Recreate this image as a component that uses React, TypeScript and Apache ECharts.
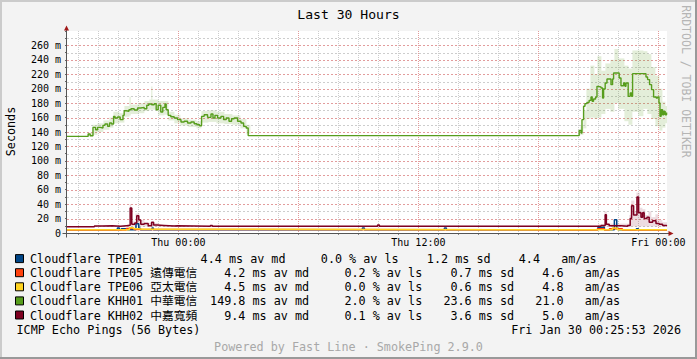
import React, { useEffect, useRef } from 'react';
import * as echarts from 'echarts';

// ---------------- data (hours relative to Thu 00:00, values in ms) ----------------
const startHour = -5.569; // Wed 18:25:53
const endHour = 24.431; // Fri 00:25:53
const hourGrid = [-5, -4, -3, -2, -1, 0, 1, 2, 3, 4, 5, 6, 7, 8, 9, 10, 11, 12, 13, 14, 15, 16, 17, 18, 19, 20, 21, 22, 23, 24];
const xLabelHours = [0, 12, 24];
const xLabelTexts = ['Thu 00:00', 'Thu 12:00', 'Fri 00:00'];
const yTop = 280;
const yStep = 20;
const yMajorValues = [20, 40, 60, 80, 100, 120, 140, 160, 180, 200, 220, 240, 260];
const yMinorValues = [10, 30, 50, 70, 90, 110, 130, 150, 170, 190, 210, 230, 250, 270];

const targetNames = ['Cloudflare TPE01', 'Cloudflare TPE05 遠傳電信', 'Cloudflare TPE06 亞太電信', 'Cloudflare KHH01 中華電信', 'Cloudflare KHH02 中嘉寬頻'];
const avgMedian = ['4.4', '4.2', '4.5', '149.8', '9.4'];
const avgLoss = ['0.0', '0.2', '0.0', '2.0', '0.1'];
const avgSd = ['1.2', '0.7', '0.6', '23.6', '3.6'];
const amAs = ['4.4', '4.6', '4.8', '21.0', '5.0'];

const tpe01Median: number[][] = [[-5.569, 4.4], [-3.05, 7.0], [-2.95, 4.4], [-2.85, 5.8], [-2.55, 4.4], [-2.12, 12.9], [-1.98, 6.5], [-1.9, 4.4], [-1.32, 6.8], [-1.25, 4.4], [9.2, 6.9], [9.3, 4.4], [13.3, 6.9], [13.4, 4.4], [20.98, 7.8], [21.3, 4.4], [21.8, 18.4], [21.92, 6.0], [22.0, 4.4], [22.9, 5.8], [23.0, 4.4], [24.431, 4.4]];
const tpe05Median: number[][] = [[-5.569, 4.2], [-2.6, 6.2], [-2.2, 5.0], [-1.9, 4.2], [20.95, 5.8], [21.3, 4.2], [21.55, 5.9], [22.2, 4.2], [24.431, 4.2]];
const tpe06Median: number[][] = [[-5.569, 4.5], [-2.45, 7.2], [-2.25, 6.0], [-2.0, 5.3], [-1.8, 4.5], [21.7, 6.8], [21.95, 4.5], [24.431, 4.5]];
const khh01Median: number[][] = [
  [-5.569, 134], [-4.51, 137.2], [-4.41, 134.9], [-4.27, 146.4], [-4.14, 143.2], [-4.04, 146.4], [-3.91, 145.5], [-3.77, 149.2], [-3.67, 151.1], [-3.54, 147.8], [-3.44, 152.4], [-3.34, 151.1], [-3.24, 161.7], [-3.17, 159.4], [-3.04, 160.8], [-2.91, 157.1], [-2.77, 163.1], [-2.71, 169.5], [-2.61, 168.6], [-2.47, 170.9], [-2.37, 172.3], [-2.21, 170.5], [-2.04, 173.2], [-1.88, 174.1], [-1.71, 172.3], [-1.58, 177], [-1.48, 178.8], [-1.34, 177.8], [-1.21, 179.2], [-1.11, 170.9], [-1.01, 177], [-0.88, 167.7], [-0.78, 174.1], [-0.67, 178.8], [-0.61, 170.9], [-0.51, 163.1], [-0.38, 161.2], [-0.21, 159.4], [-0.04, 157.1], [0.13, 153.8], [0.29, 154.8], [0.46, 152.4], [0.63, 153.8], [0.79, 151.5], [0.93, 150.1], [1.06, 148.7], [1.16, 161.7], [1.29, 164], [1.46, 160.3], [1.63, 164.9], [1.73, 159.4], [1.83, 163.1], [1.96, 159.4], [2.13, 161.7], [2.26, 157.1], [2.39, 159.4], [2.53, 154.8], [2.66, 158.4], [2.79, 159.4], [2.96, 154.8], [3.13, 152.4], [3.26, 147.8], [3.39, 145.5], [3.49, 135],
  [20.04, 142.3], [20.13, 138.6], [20.18, 157.1], [20.26, 175.6], [20.33, 179.3], [20.43, 181.1], [20.54, 183.9], [20.63, 188.5], [20.69, 182.5], [20.76, 185.7], [20.86, 188.5], [20.93, 203.3], [20.99, 202.4], [21.13, 201], [21.21, 187.2], [21.26, 199.6], [21.34, 207.9], [21.43, 213.5], [21.63, 205.6], [21.71, 213.5], [21.76, 221.8], [22.04, 214.9], [22.13, 204.2], [22.26, 207.9], [22.33, 203.3], [22.38, 207.9], [22.49, 189.4], [22.59, 194], [22.66, 189.4], [22.71, 220.9], [23.38, 216.3], [23.46, 212.6], [23.56, 205.6], [23.66, 198.7], [23.76, 188.5], [23.89, 187.2], [23.96, 188.5], [24.03, 180.2], [24.08, 161.7], [24.14, 171], [24.21, 164], [24.27, 168.6], [24.34, 164], [24.41, 167.2], [24.431, 167.2],
];
const khh02Median: number[][] = [
  [-5.569, 8.6], [-4.2, 9.6], [-3.8, 9.9], [-3.3, 9.4], [-2.9, 10.2], [-2.6, 10.6], [-2.41, 34.7], [-2.33, 12], [-2.18, 13.9], [-2.08, 24], [-1.98, 18], [-1.88, 12], [-1.71, 13], [-1.51, 10], [-1.34, 15], [-1.24, 11], [-1.04, 10.5], [-0.71, 9.6], [-0.21, 10], [-0.04, 9.2], [1.6, 10.5], [1.7, 9.2], [9.96, 11], [10.05, 9.2],
  [21.13, 10.5], [21.34, 25.4], [21.4, 12], [21.54, 10], [22.13, 9.5], [22.46, 10.5], [22.59, 20], [22.66, 37.8], [22.76, 25], [22.93, 49.9], [23.01, 28], [23.13, 22], [23.21, 28], [23.29, 20], [23.43, 22], [23.54, 15], [23.71, 17], [23.88, 13], [24.04, 12], [24.21, 10.5], [24.38, 10], [24.431, 10],
];
// smoke: [hour, low, high]; each band lasts until the next entry's hour
const khh01Smoke: number[][] = [
  [-4.55, 134, 139], [-4.3, 136, 150], [-4.05, 140, 152], [-3.75, 143, 156], [-3.45, 146, 160], [-3.25, 152, 168], [-2.95, 153, 166], [-2.7, 161, 176], [-2.45, 163, 189], [-2.38, 165, 178], [-2.0, 166, 180], [-1.7, 169, 183], [-1.45, 171, 185], [-1.36, 171, 203], [-1.3, 171, 185], [-1.0, 163, 183], [-0.7, 164, 183], [-0.5, 156, 168], [-0.2, 152, 164], [0.1, 149, 159], [0.5, 147, 157], [0.9, 145, 155], [1.15, 153, 169], [1.5, 154, 170], [1.9, 152, 168], [2.3, 151, 165], [2.7, 150, 163], [3.1, 145, 158], [3.4, 137, 150], [3.6, 135, 135],
  [20.0, 135, 137], [20.1, 136, 148], [20.25, 145, 170], [20.4, 158, 200], [20.6, 160, 232], [20.8, 158, 220], [20.95, 160, 245], [21.15, 165, 225], [21.35, 172, 235], [21.6, 168, 240], [21.8, 180, 255], [22.0, 172, 242], [22.3, 155, 232], [22.5, 150, 228], [22.7, 168, 253], [23.0, 162, 253], [23.25, 172, 252], [23.45, 165, 248], [23.65, 158, 230], [23.85, 148, 218], [24.05, 142, 200], [24.2, 146, 182], [24.35, 152, 176], [24.431, 152, 176],
];
const khh02Smoke: number[][] = [
  [-5.569, 8.3, 9.8], [-2.5, 8.5, 12], [-2.43, 9, 40], [-2.36, 9, 16], [-2.15, 9, 27], [-1.95, 9, 18], [-1.7, 9, 14], [-1.0, 8.6, 11], [0, 8.6, 10], [21.0, 8.6, 12], [21.3, 9, 30], [21.42, 9, 13], [22.55, 9, 25], [22.64, 9, 45], [22.8, 9, 30], [22.9, 9, 56], [23.07, 9, 35], [23.2, 9, 33], [23.35, 9, 25], [23.5, 9, 30], [23.65, 9, 22], [23.85, 9, 26], [24.0, 9, 18], [24.2, 9, 15], [24.431, 9, 15],
];

// ---------------- styles ----------------
const COLORS = ['#004586', '#ff420e', '#ffd320', '#579d1c', '#7e0021'];
const GREEN_SMOKE = 'rgba(87,157,28,0.17)';
const RED_SMOKE = 'rgba(126,0,33,0.14)';
const MAJOR = '#e29c9c';
const MINOR = '#cdcdcd';
const MONO = "'DejaVu Sans Mono', monospace";
const MONO_CJK = "'DejaVu Sans Mono', 'Noto Sans CJK TC', monospace";
const W = 697;
const H = 359;
const GRID_L = 67;
const GRID_T = 31;
const GRID_W = 600;
const GRID_H = 202;
const LEG_FS = 11.75;
const CW = 7.07;

function smokeSeries(triples: number[][], color: string) {
  return {
    type: 'custom',
    silent: true,
    z: 2,
    clip: true,
    data: triples.slice(0, -1).map((p, i) => [p[0], p[1], p[2], triples[i + 1][0]]),
    encode: { x: [0, 3], y: [1, 2] },
    renderItem: (_p: any, api: any) => {
      const a = api.coord([api.value(0), api.value(2)]);
      const b = api.coord([api.value(3), api.value(1)]);
      return {
        type: 'rect',
        shape: { x: a[0], y: a[1], width: b[0] - a[0], height: b[1] - a[1] },
        style: { fill: color },
      };
    },
  };
}

function hGridSeries(values: number[], color: string) {
  return {
    type: 'custom',
    silent: true,
    z: 1,
    clip: false,
    data: values.map((v) => [10, v]),
    encode: { x: 0, y: 1 },
    renderItem: (_p: any, api: any) => {
      const v = api.value(1);
      const l = api.coord([startHour, v]);
      const r = api.coord([endHour, v]);
      const y = Math.round(l[1]) + 0.5;
      return {
        type: 'line',
        shape: { x1: Math.round(l[0]), y1: y, x2: Math.round(r[0]), y2: y },
        style: { stroke: color, lineWidth: 1, lineDash: [2, 2] },
      };
    },
  };
}

function lineSeries(data: number[][], color: string, width: number) {
  return {
    type: 'line',
    step: 'end',
    data,
    showSymbol: false,
    symbol: 'none',
    silent: true,
    z: 3,
    lineStyle: { color, width },
  };
}

function buildGraphic() {
  const g: any[] = [];
  const txt = (text: string, x: number, y: number, o: any = {}) =>
    g.push({
      type: 'text',
      x,
      y,
      rotation: o.rotation || 0,
      z: 10,
      style: {
        text,
        fill: o.fill || '#000',
        fontSize: o.fontSize || LEG_FS,
        fontFamily: o.fontFamily || MONO,
        align: o.align || 'left',
        verticalAlign: 'middle',
      },
    });
  const AX = GRID_L - 0.5;
  const AY = GRID_T + GRID_H + 0.5;
  // frame
  g.push({ type: 'rect', shape: { x: 0, y: 0, width: W, height: 2 }, style: { fill: '#cbcbcb' }, z: 10 });
  g.push({ type: 'rect', shape: { x: 0, y: 0, width: 2, height: H }, style: { fill: '#cbcbcb' }, z: 10 });
  g.push({ type: 'rect', shape: { x: 0, y: H - 2, width: W, height: 2 }, style: { fill: '#999999' }, z: 10 });
  g.push({ type: 'rect', shape: { x: W - 2, y: 0, width: 2, height: H }, style: { fill: '#999999' }, z: 10 });
  // axes lines and arrows
  g.push({ type: 'line', shape: { x1: AX, y1: AY + 4, x2: AX, y2: GRID_T - 3 }, style: { stroke: '#555', lineWidth: 1 }, z: 9 });
  g.push({ type: 'line', shape: { x1: AX - 4, y1: AY, x2: GRID_L + GRID_W + 3, y2: AY }, style: { stroke: '#555', lineWidth: 1 }, z: 9 });
  g.push({ type: 'polygon', shape: { points: [[AX - 2.5, GRID_T - 0.5], [AX + 2.5, GRID_T - 0.5], [AX, GRID_T - 5.5]] }, style: { fill: '#a01818' }, z: 9 });
  g.push({ type: 'polygon', shape: { points: [[GRID_L + GRID_W + 1.5, AY - 2.5], [GRID_L + GRID_W + 1.5, AY + 2.5], [GRID_L + GRID_W + 6.5, AY]] }, style: { fill: '#a01818' }, z: 9 });
  // title, axis name, watermark
  txt('Last 30 Hours', 348.5, 14.2, { align: 'center', fontSize: 13.1 });
  txt('Seconds', 11.3, 131.5, { align: 'center', rotation: Math.PI / 2 });
  txt('RRDTOOL / TOBI OETIKER', 685.5, 81.5, { align: 'center', rotation: -Math.PI / 2, fill: '#b5b5b5', fontSize: 11.5 });
  // legend
  const rowY = [259.1, 273.2, 287.3, 301.4, 315.5];
  const statsX = [186.5, 210.1, 210.1, 210.1, 210.1];
  targetNames.forEach((name, i) => {
    const y = rowY[i];
    g.push({ type: 'rect', shape: { x: 15.5, y: y - 4.5, width: 8, height: 8 }, style: { fill: COLORS[i], stroke: '#000', lineWidth: 1 }, z: 10 });
    txt(name, 30, y, { fontFamily: MONO_CJK });
    const b = statsX[i];
    txt(avgMedian[i], b + 5 * CW, y, { align: 'right' });
    txt('ms av md', b + 6 * CW, y);
    txt(avgLoss[i], b + 19 * CW, y);
    txt('% av ls', b + 23 * CW, y);
    txt(avgSd[i], b + 37 * CW, y, { align: 'right' });
    txt('ms sd', b + 38 * CW, y);
    txt(amAs[i], b + 50 * CW, y, { align: 'right' });
    txt('am/as', b + 53 * CW, y);
  });
  txt('ICMP Echo Pings (56 Bytes)', 16.5, 330.3);
  txt('Fri Jan 30 00:25:53 2026', 681, 330.3, { align: 'right' });
  txt('Powered by Fast Line · SmokePing 2.9.0', 348.5, 346.6, { align: 'center', fill: '#a8a8a8' });
  return g;
}

export default function App() {
  const ref = useRef<HTMLDivElement>(null);
  useEffect(() => {
    document.body.style.margin = '0';
    if (!ref.current) return;
    const chart = echarts.init(ref.current, undefined, { renderer: 'svg' });
    const option: any = {
      animation: false,
      backgroundColor: '#f3f3f3',
      grid: { left: GRID_L, top: GRID_T, width: GRID_W, height: GRID_H, show: true, backgroundColor: '#ffffff', borderWidth: 0 },
      xAxis: {
        type: 'value',
        min: startHour,
        max: endHour,
        axisLine: { show: false, onZero: false },
        splitLine: { show: false },
        axisTick: { show: true, customValues: hourGrid, length: 2, lineStyle: { color: '#888' } },
        axisLabel: {
          customValues: xLabelHours,
          formatter: (v: number) => {
            const i = xLabelHours.indexOf(v);
            return i >= 0 ? xLabelTexts[i] : '';
          },
          fontFamily: MONO,
          fontSize: 10,
          color: '#000',
          margin: 4,
        },
      },
      yAxis: {
        type: 'value',
        min: 0,
        max: yTop,
        interval: yStep,
        axisLine: { show: false, onZero: false },
        axisTick: { show: true, length: 2, lineStyle: { color: '#666' } },
        minorTick: { show: true, splitNumber: 2, length: 2, lineStyle: { color: '#666' } },
        axisLabel: {
          showMaxLabel: false,
          formatter: (v: number) => (v >= yTop ? '' : v === 0 ? '0' : `${v} m`),
          fontFamily: MONO,
          fontSize: 10,
          color: '#000',
          margin: 6,
        },
        splitLine: { show: false },
        minorSplitLine: { show: false },
      },
      series: [
        {
          type: 'custom',
          silent: true,
          z: 1,
          data: hourGrid.map((h) => [h, 0]),
          encode: { x: 0, y: 1 },
          renderItem: (_p: any, api: any) => {
            const h = api.value(0);
            const top = api.coord([h, yTop]);
            const bot = api.coord([h, 0]);
            const x = Math.round(top[0]) + 0.5;
            return {
              type: 'line',
              shape: { x1: x, y1: Math.round(top[1]), x2: x, y2: Math.round(bot[1]) },
              style: { stroke: h % 6 === 0 ? MAJOR : MINOR, lineWidth: 1, lineDash: [1, 1] },
            };
          },
        },
        hGridSeries(yMinorValues, MINOR),
        hGridSeries(yMajorValues, MAJOR),
        smokeSeries(khh01Smoke, GREEN_SMOKE),
        smokeSeries(khh02Smoke, RED_SMOKE),
        lineSeries(tpe01Median, COLORS[0], 1.5),
        lineSeries(tpe05Median, COLORS[1], 1.5),
        lineSeries(tpe06Median, COLORS[2], 1.5),
        lineSeries(khh01Median, COLORS[3], 1.4),
        lineSeries(khh02Median, COLORS[4], 1.5),
      ],
      graphic: buildGraphic(),
    };
    chart.setOption(option);
    return () => chart.dispose();
  }, []);
  return <div ref={ref} style={{ width: W, height: H }} />;
}
